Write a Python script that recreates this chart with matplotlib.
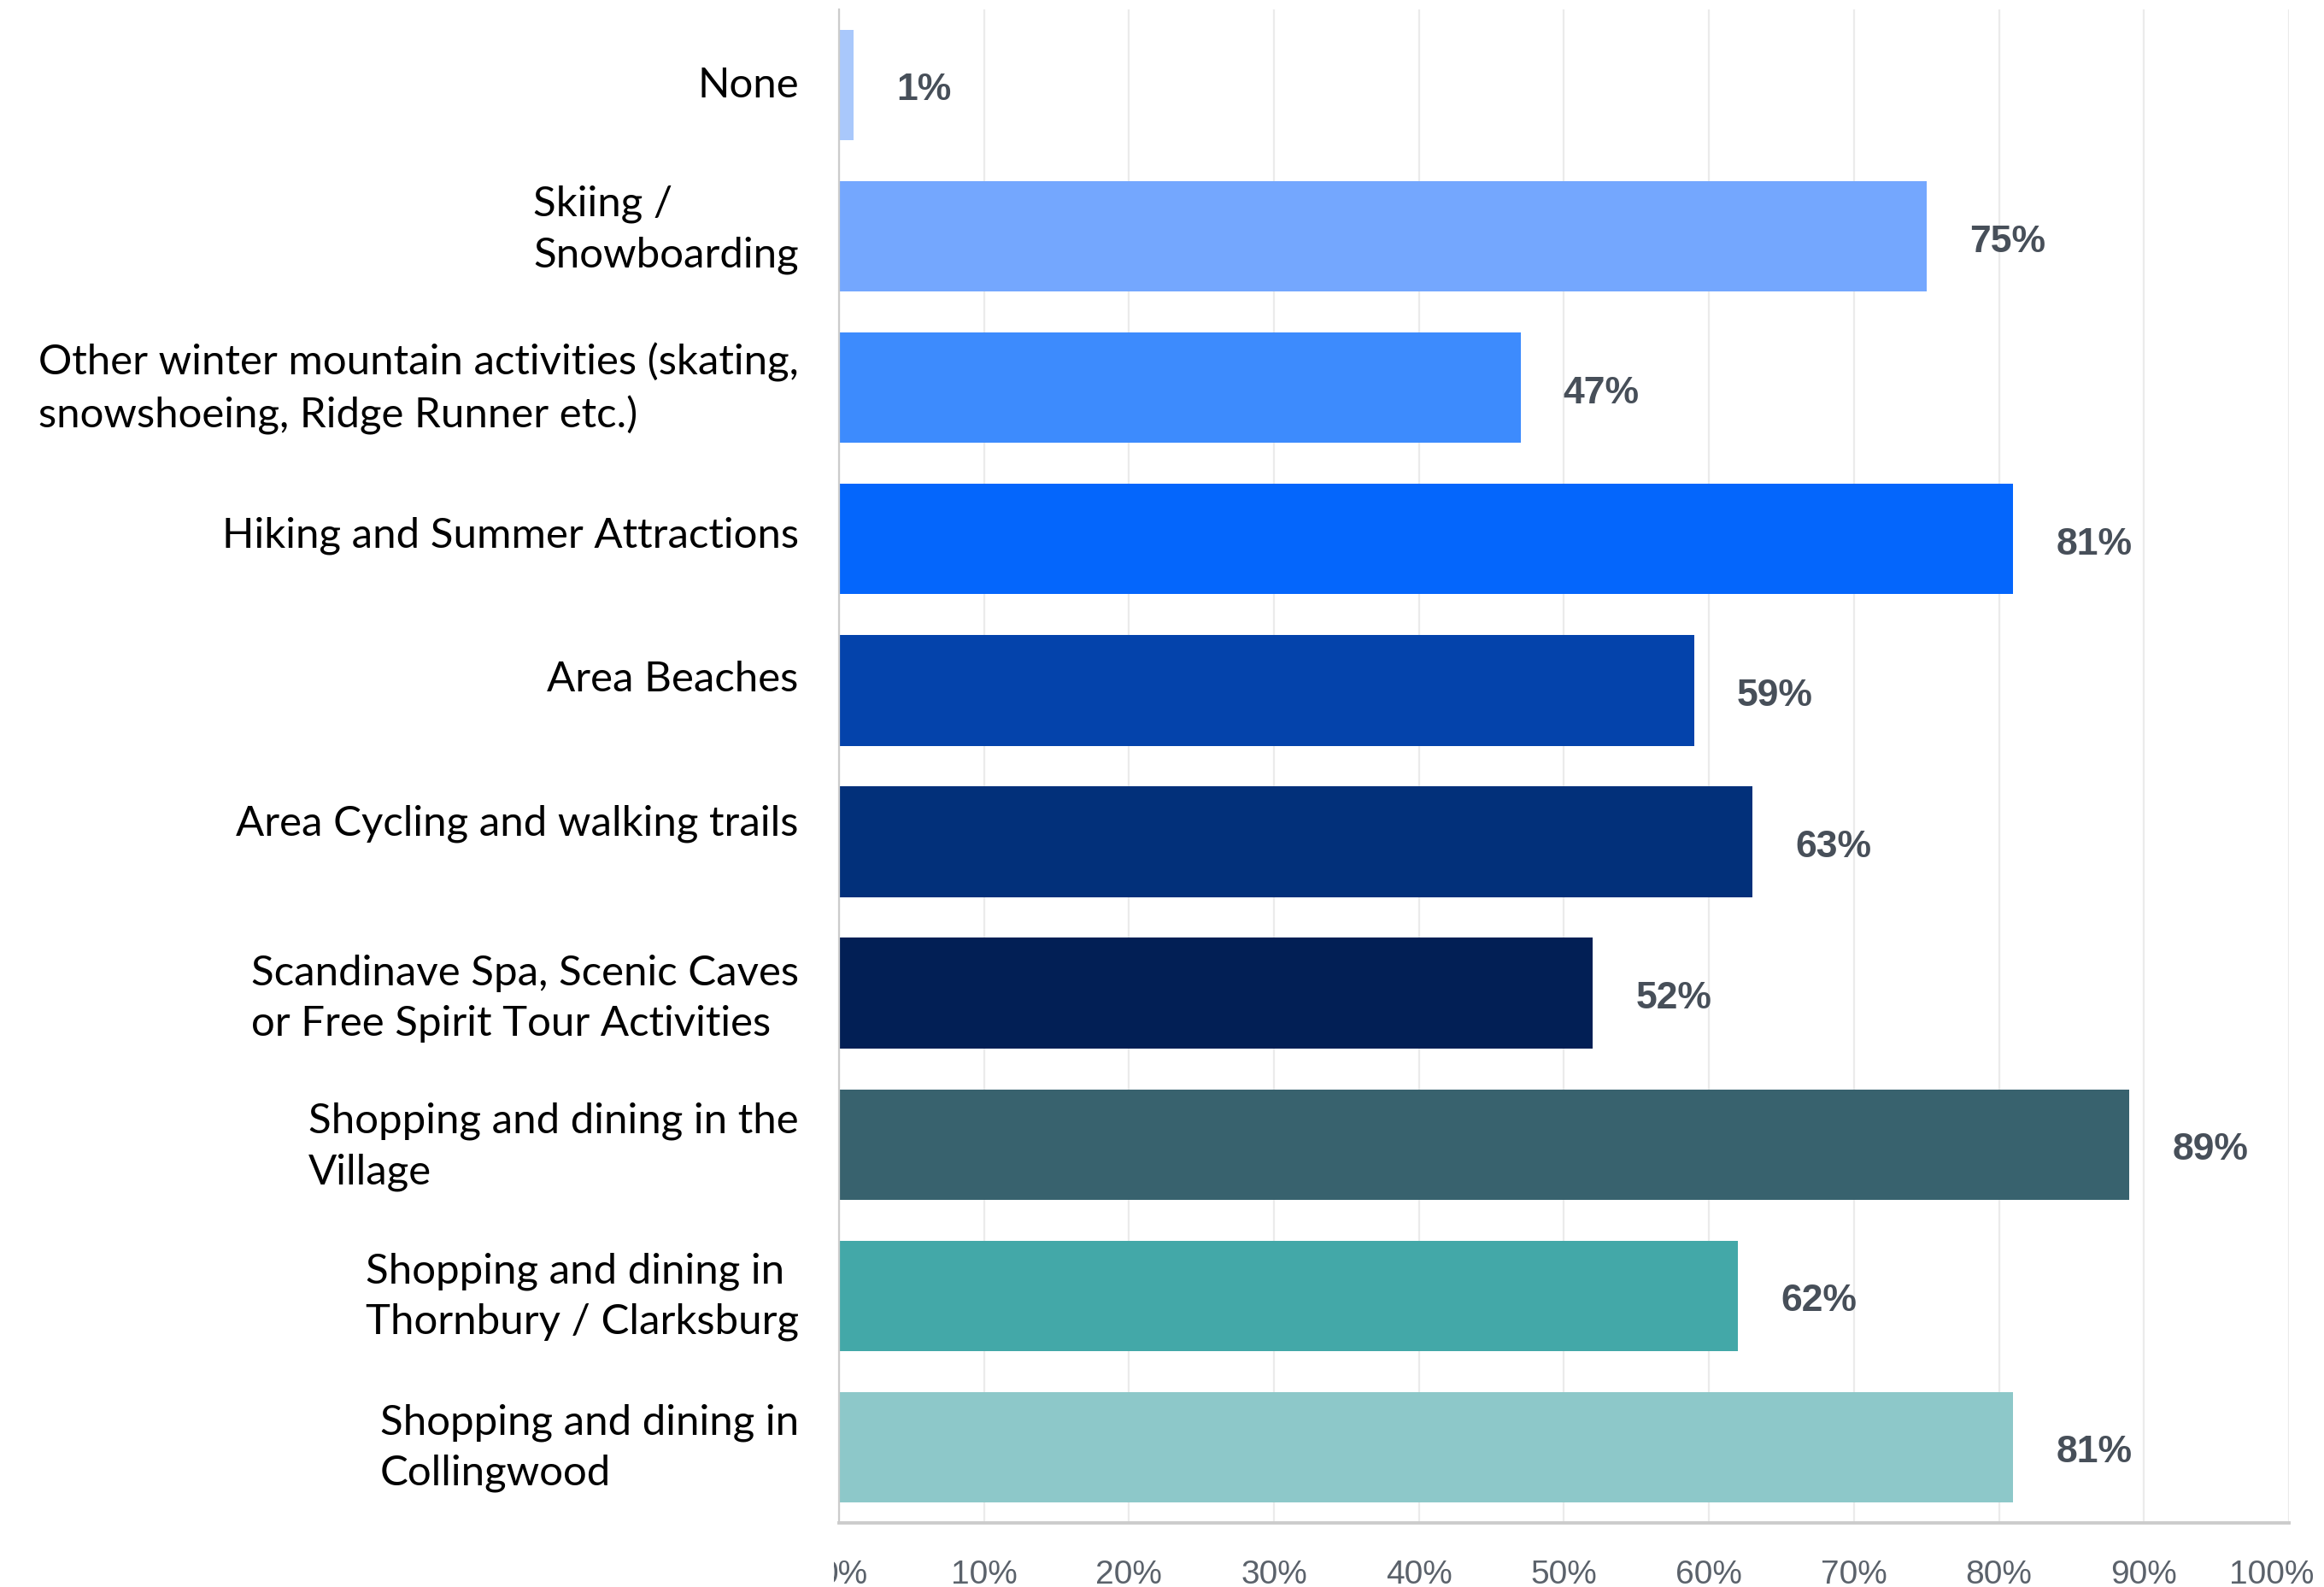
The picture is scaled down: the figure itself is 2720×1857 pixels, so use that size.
import matplotlib
matplotlib.use("Agg")
import matplotlib.pyplot as plt
from matplotlib.transforms import Bbox, ScaledTranslation

# activities and share of respondents
activities = [
    "None",
    "Skiing /\nSnowboarding",
    "Other winter mountain activities (skating,\nsnowshoeing, Ridge Runner etc.)",
    "Hiking and Summer Attractions",
    "Area Beaches",
    "Area Cycling and walking trails",
    "Scandinave Spa, Scenic Caves\nor Free Spirit Tour Activities",
    "Shopping and dining in the\nVillage",
    "Shopping and dining in\nThornbury / Clarksburg",
    "Shopping and dining in\nCollingwood",
]
pct = [1, 75, 47, 81, 59, 63, 52, 89, 62, 81]
colors = ["#a9c8fb", "#74a7fe", "#3d8bfd", "#0466fc", "#0443ab",
          "#02307a", "#021f55", "#38626e", "#43a8a8", "#8dc8c9"]
xticks = [0, 10, 20, 30, 40, 50, 60, 70, 80, 90, 100]

# small vertical nudges (points) for the category labels
label_dy = [0, 3.2, 0, 1.8, 5, 8, -1.8, -0.5, 0, 0]

fig = plt.figure(figsize=(13.6, 9.29), dpi=200)
ax = fig.add_axes([0.3610, 0.0404, 0.6239, 0.9532])

y = list(range(len(activities)))
ax.barh(y, pct, height=0.73, color=colors, zorder=2)
ax.set_ylim(len(activities) - 0.5, -0.5)
ax.set_xlim(0, 100)

# value labels to the right of each bar
for i, v in enumerate(pct):
    ax.annotate(f"{v}%", xy=(v, i), xytext=(18, -2), textcoords="offset points",
                ha="left", va="center", fontsize=16, color="#474f59",
                family="Liberation Sans", fontweight="bold")

# category labels, left-aligned lines in a right-aligned block
ax.set_yticks(y)
ax.set_yticklabels([])
ax.tick_params(axis="y", length=0)
for i, name in enumerate(activities):
    ax.annotate(name, xy=(0, i), xycoords=("axes fraction", "data"),
                xytext=(-17, label_dy[i]), textcoords="offset points",
                ha="right", va="center", multialignment="left",
                family="Lato", fontsize=17.7, color="black", linespacing=1.42)

ax.set_xticks(xticks)
ax.set_xticklabels([f"{t}%" for t in xticks], family="Liberation Sans",
                   fontsize=14, color="#5b626b")
ax.tick_params(axis="x", length=0, pad=15)

ax.grid(axis="x", color="#ebebeb", linewidth=0.8, zorder=0)
ax.set_axisbelow(True)
for side in ["top", "right"]:
    ax.spines[side].set_visible(False)
ax.spines["left"].set_color("#cccccc")
ax.spines["left"].set_linewidth(0.8)
ax.spines["bottom"].set_color("#cccccc")
ax.spines["bottom"].set_linewidth(1.4)

fig.canvas.draw()
ticklabels = ax.get_xticklabels()
# the first x tick label is cut off on its left side
ticklabels[0].set_transform(ticklabels[0].get_transform()
                            + ScaledTranslation(0.03, 0, fig.dpi_scale_trans))
ticklabels[0].set_clip_box(Bbox([[976, 0], [1100, 200]]))
ticklabels[0].set_clip_on(True)
# pull the last one in so it stays inside the figure
ticklabels[-1].set_transform(ticklabels[-1].get_transform()
                             + ScaledTranslation(-0.1, 0, fig.dpi_scale_trans))

fig.savefig("out.png", dpi=200)
